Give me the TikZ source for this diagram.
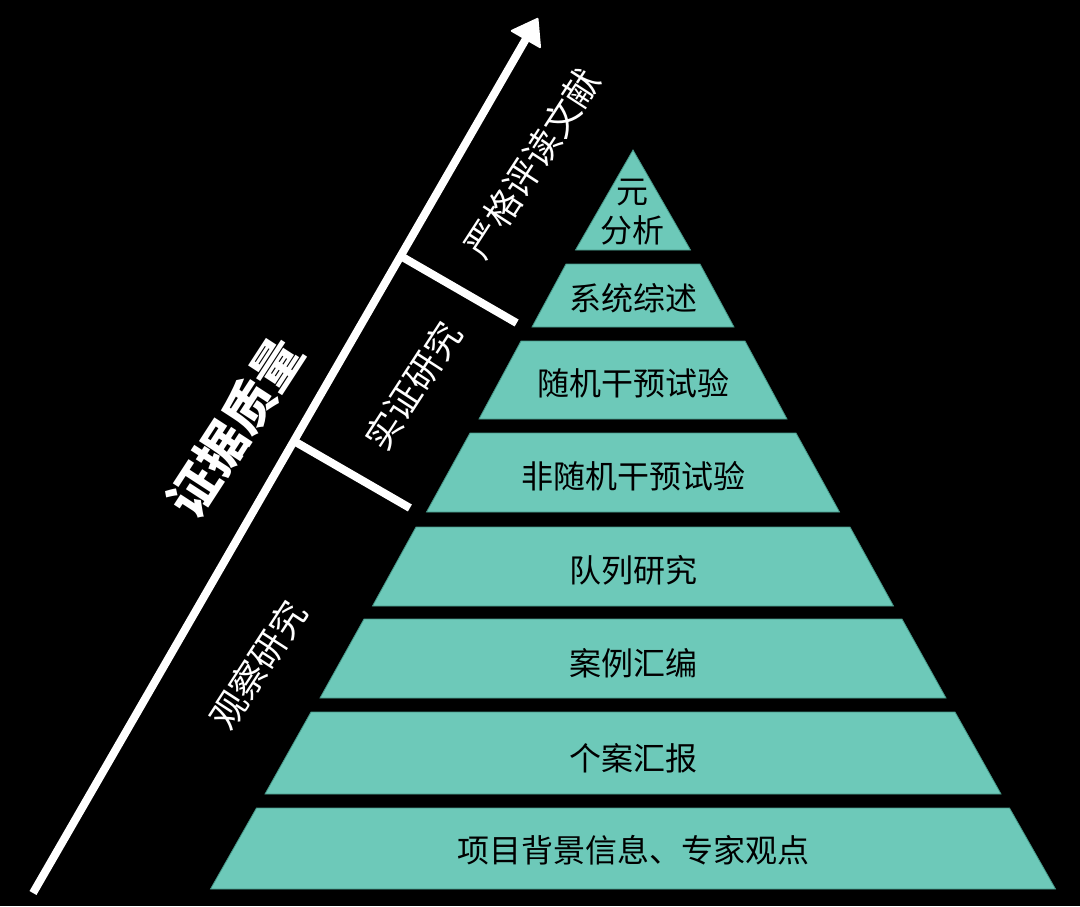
\documentclass[tikz,border=0pt]{standalone}
\usepackage{fontspec}
\setmainfont{Noto Sans CJK SC}
\usetikzlibrary{arrows.meta,calc}
\definecolor{teal1}{RGB}{109,201,185}
\definecolor{teal2}{RGB}{70,150,135}
\tikzset{
  layer/.style={fill=teal1, draw=teal2, line width=0.8pt, line join=miter},
  ltext/.style={font=\fontsize{32}{39}\selectfont, text=black, align=center, inner sep=0pt},
  side/.style={text=white, rotate=57, font=\fontsize{36}{40}\selectfont, inner sep=0pt},
  bigside/.style={text=white, rotate=57, font=\fontsize{50}{54}\selectfont\bfseries, inner sep=0pt},
  axis/.style={draw=white, line width=8pt},
  tick/.style={draw=white, line width=8pt, line cap=butt}
}
\begin{document}
\begin{tikzpicture}[x=1pt,y=-1pt]
\useasboundingbox (0,0) rectangle (1080,906);
\fill[black] (0,0) rectangle (1080,906);
% pyramid
\path[layer] (633,150) -- (690.5,250) -- (575.5,250) -- cycle;
\foreach \t/\b/\ht/\hb in {264/327/67/101, 341/419/112/154, 433/512/163/206.5, 527/606/217/260.5, 619/698/269/313, 712/794/322/368, 808/889/376.5/422.5}{
  \path[layer] ({633-\ht},\t) -- ({633+\ht},\t) -- ({633+\hb},\b) -- ({633-\hb},\b) -- cycle;
}
\node[ltext] (l1) at (632,212) {元\\分析};
\node[ltext] (l2) at (633,298) {系统综述};
\node[ltext] (l3) at (633,383) {随机干预试验};
\node[ltext] (l4) at (633,476) {非随机干预试验};
\node[ltext] (l5) at (633,570) {队列研究};
\node[ltext] (l6) at (633,663) {案例汇编};
\node[ltext] (l7) at (633,758) {个案汇报};
\node[ltext] (l8) at (633,850) {项目背景信息、专家观点};
% axis arrow
\coordinate (a0) at (33,893);
\coordinate (a1) at (538,18);
\draw[axis, -{Triangle[length=26pt,width=36pt,round,line width=2pt]}] (a0) -- (a1);
\coordinate (t1s) at ($(a0)!0.728!(a1)$);
\coordinate (t1e) at ($(t1s)+(116,67)$);
\coordinate (t2s) at ($(a0)!0.5166!(a1)$);
\coordinate (t2e) at ($(t2s)+(116,67)$);
\draw[tick] (t1s) -- (t1e);
\draw[tick] (t2s) -- (t2e);
% side labels
\node[side] (s1) at (532,163) {严格评读文献};
\node[side] (s2) at (413,386) {实证研究};
\node[bigside] (s3) at (235,427) {证据质量};
\node[side] (s4) at (258,665) {观察研究};
\end{tikzpicture}
\end{document}
